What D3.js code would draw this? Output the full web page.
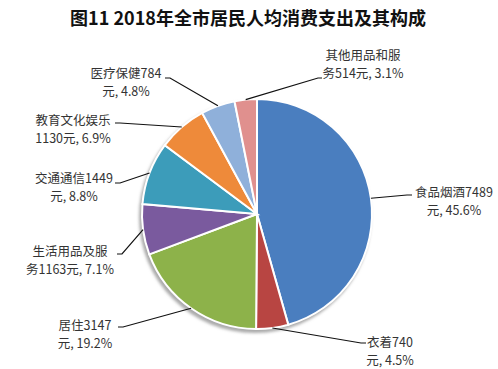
<!DOCTYPE html>
<html>
<head>
<meta charset="utf-8">
<script src="https://cdn.jsdelivr.net/npm/d3@7/dist/d3.min.js"></script>
<style>
  body { margin: 0; background: #fff; }
  svg { display: block; }
</style>
</head>
<body>
<script>
// 2018年全市居民人均消费支出构成
var names = ["食品烟酒", "衣着", "居住", "生活用品及服务", "交通通信", "教育文化娱乐", "医疗保健", "其他用品和服务"];
var amounts = [7489, 740, 3147, 1163, 1449, 1130, 784, 514];
var shares = ["45.6%", "4.5%", "19.2%", "7.1%", "8.8%", "6.9%", "4.8%", "3.1%"];
var labelLines = [
  ["食品烟酒7489", "元, 45.6%"],
  ["衣着740", "元, 4.5%"],
  ["居住3147", "元, 19.2%"],
  ["生活用品及服", "务1163元, 7.1%"],
  ["交通通信1449", "元, 8.8%"],
  ["教育文化娱乐", "1130元, 6.9%"],
  ["医疗保健784", "元, 4.8%"],
  ["其他用品和服", "务514元, 3.1%"]
];
var colors = ["#4a7ebf", "#b84542", "#8db24a", "#7a5a9e", "#3c9cba", "#ee8a3a", "#8fb0da", "#e0908e"];

// label placement: text centre x, first line y, leader end point
var labelPos = [
  {cx: 454, y: 192, ex: 412, ey: 195},
  {cx: 390, y: 342, ex: 366, ey: 343},
  {cx: 85,  y: 325, ex: 118, ey: 327},
  {cx: 70,  y: 251, ex: 117, ey: 254},
  {cx: 74,  y: 178, ex: 115, ey: 183},
  {cx: 73,  y: 120, ex: 115, ey: 123},
  {cx: 126, y: 73,  ex: 165, ey: 78},
  {cx: 363, y: 55,  ex: 322, ey: 78}
];

var w = 498, h = 369;
var cx = 257, cy = 214, r = 115;

var svg = d3.select("body").append("svg")
    .attr("width", w)
    .attr("height", h);

svg.append("text")
    .attr("x", 248)
    .attr("y", 25)
    .attr("text-anchor", "middle")
    .style("font-family", "'Noto Sans CJK SC', sans-serif")
    .style("font-weight", "bold")
    .style("font-size", "18px")
    .style("fill", "#111")
    .text("图11  2018年全市居民人均消费支出及其构成");

var defs = svg.append("defs");
defs.append("filter").attr("id", "blur")
  .append("feGaussianBlur").attr("stdDeviation", 1.5);

var g = svg.append("g").attr("transform", "translate(" + cx + "," + cy + ")");

g.append("circle")
    .attr("cx", -2)
    .attr("cy", 3)
    .attr("r", r + 1)
    .style("fill", "#aaa")
    .attr("filter", "url(#blur)");

var pie = d3.pie().sort(null).value(function(d) { return d; });
var arcs = pie(amounts);
var arc = d3.arc().innerRadius(0).outerRadius(r);

g.selectAll("path")
    .data(arcs)
    .enter()
    .append("path")
    .attr("d", arc)
    .style("fill", function(d, i) { return colors[i]; })
    .style("stroke", "#fff")
    .style("stroke-width", 2);

// leader lines
var edge = d3.arc().innerRadius(r).outerRadius(r);
arcs.forEach(function(d, i) {
  var p = edge.centroid(d);
  var lp = labelPos[i];
  var right = lp.ex > cx;
  var hx = right ? lp.ex - 5 : lp.ex + 5;
  if (i == 7) hx = lp.ex - 4;
  svg.append("polyline")
      .attr("points", [[cx + p[0], cy + p[1]], [hx, lp.ey], [lp.ex, lp.ey]].map(function(q) { return q.join(","); }).join(" "))
      .style("fill", "none")
      .style("stroke", "#111")
      .style("stroke-width", 1.2);
});

// labels
labelLines.forEach(function(lines, i) {
  var lp = labelPos[i];
  var t = svg.append("text")
      .attr("text-anchor", "middle")
      .style("font-family", "'Noto Sans CJK SC', sans-serif")
      .style("font-size", "12.5px")
      .style("fill", "#333");
  lines.forEach(function(s, j) {
    t.append("tspan")
        .attr("x", lp.cx)
        .attr("y", lp.y + 5 + j * 17.5)
        .text(s);
  });
});
</script>
</body>
</html>
